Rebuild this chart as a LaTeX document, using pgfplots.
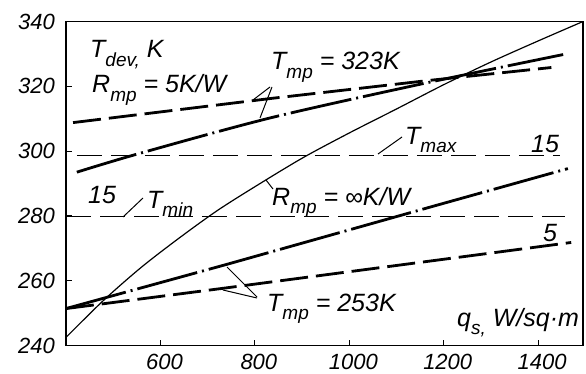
\documentclass[border=0pt]{standalone}
\usepackage{fontspec}
\setmainfont{Liberation Sans}
\usepackage{pgfplots}
\pgfplotsset{compat=1.18}
\newcommand\sub[1]{\raisebox{-0.32em}{\fontsize{19}{19}\selectfont #1}}
\newcommand\lbl{\itshape\fontsize{25}{25}\selectfont}
\newcommand\tl{\fontsize{22}{22}\selectfont\itshape}
\begin{document}
\begin{tikzpicture}[x=1pt,y=1pt]
\useasboundingbox (0,0) rectangle (586,373);
\begin{axis}[
  at={(66pt,27.5pt)}, anchor=south west,
  scale only axis, width=517pt, height=324pt,
  xmin=400, xmax=1495, ymin=240, ymax=340,
  xtick={600,800,1000,1200,1400}, ytick={240,260,280,300,320,340},
  xticklabels={{\tl 600},{\tl 800},{\tl 1000},{\tl 1200},{\tl 1400}},
  yticklabels={{\tl 240},{\tl 260},{\tl 280},{\tl 300},{\tl 320},{\tl 340}},
  xtick pos=left, ytick pos=left,
  tick align=inside, major tick length=6pt,
  axis line style={line width=1.4pt},
  every tick/.style={line width=1.2pt, black},
  xticklabel style={anchor=north, inner sep=0pt, yshift=-8pt, xshift=4pt, font=\tl},
  yticklabel style={anchor=east, inner sep=0pt, xshift=-11pt, font=\tl},
]
% R_mp = infinity (solid curve)
\addplot[black, line width=1.2pt, smooth] coordinates {
 (400,242.5) (480,254) (560,264.2) (640,273.2) (720,281.6) (800,289)
 (900,297.8) (1000,305.6) (1100,313) (1200,320.5) (1300,327.5) (1400,334) (1495,340)};
% T_mp = 323K, dashed
\addplot[black, line width=2.8pt, dash pattern=on 28pt off 8pt] coordinates {
 (415,308.8) (837,316.3) (1168,321.8) (1428,325.8)};
% T_mp = 323K, dash-dot
\addplot[black, line width=2.8pt, smooth, dash pattern=on 62pt off 5pt on 2pt off 5pt] coordinates {
 (423,293.5) (556,299.3) (837,310.4) (1168,321.2) (1453,329.8)};
% T_mp = 253K, dash-dot
\addplot[black, line width=2.8pt, dash pattern=on 62pt off 5pt on 2pt off 5pt] coordinates {
 (400,251.4) (742,265.1) (1183,283.2) (1463,294.6)};
% T_mp = 253K, dashed
\addplot[black, line width=2.8pt, dash pattern=on 28pt off 8pt] coordinates {
 (400,251.4) (735,257.7) (1100,264.7) (1470,271.8)};
% T_max, T_min
\addplot[black, line width=1.1pt, dash pattern=on 25pt off 9pt] coordinates {(423,298.6) (1446,298.6)};
\addplot[black, line width=1.1pt, dash pattern=on 25pt off 9pt] coordinates {(400,279.8) (1457,279.8)};
\end{axis}
% labels
\node[anchor=base west, inner sep=0pt] at (90,315) {\lbl T\sub{dev,} K};
\node[anchor=base west, inner sep=0pt] at (92,280) {\lbl R\sub{mp} = 5K/W};
\node[anchor=base west, inner sep=0pt] at (271,303) {\lbl T\sub{mp} = 323K};
\node[anchor=base west, inner sep=0pt] at (405,229) {\lbl T\sub{max}};
\node[anchor=base west, inner sep=0pt] at (531,221) {\lbl 15};
\node[anchor=base west, inner sep=0pt] at (88,170) {\lbl 15};
\node[anchor=base west, inner sep=0pt] at (147,165) {\lbl T\sub{min}};
\node[anchor=base west, inner sep=0pt] at (272,168) {\lbl R\sub{mp} = ∞K/W};
\node[anchor=base west, inner sep=0pt] at (543,132) {\lbl 5};
\node[anchor=base west, inner sep=0pt] at (267,62) {\lbl T\sub{mp} = 253K};
\node[anchor=base west, inner sep=0pt] at (457,47) {\lbl q\sub{s,} W/sq·m};
% leader lines
\draw[line width=1pt] (402,236) -- (378,219);
\draw[line width=1pt] (143,175) -- (123,156);
\draw[line width=1pt] (273,184) -- (266,193);
\draw[line width=1pt] (270,286) -- (253,273);
\draw[line width=1pt] (272,286) -- (260,255);
\draw[line width=1pt] (257,76) -- (227,106);
\draw[line width=1pt] (257,75) -- (223,83);
\end{tikzpicture}
\end{document}
